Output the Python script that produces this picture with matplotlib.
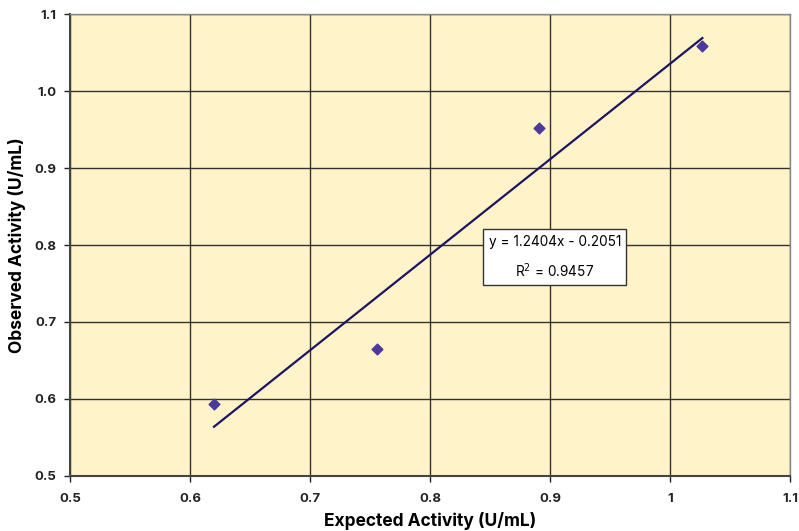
import numpy as np
import matplotlib.pyplot as plt

plt.rcParams['font.family'] = ['Inter', 'DejaVu Sans']

# Measured points
expected = [0.620, 0.756, 0.891, 1.027]
observed = [0.593, 0.665, 0.952, 1.058]

# Linear trendline reported on the chart
slope = 1.2404
intercept = -0.2051
eq_label = 'y = 1.2404x - 0.2051\nR$^2$ = 0.9457'

x_ticks = [0.5, 0.6, 0.7, 0.8, 0.9, 1.0, 1.1]
x_tick_labels = ['0.5', '0.6', '0.7', '0.8', '0.9', '1', '1.1']
y_ticks = [0.5, 0.6, 0.7, 0.8, 0.9, 1.0, 1.1]
y_tick_labels = ['0.5', '0.6', '0.7', '0.8', '0.9', '1.0', '1.1']

fig = plt.figure(figsize=(7.99, 5.31), dpi=100)
ax = fig.add_axes([0.0876, 0.1036, 0.9011, 0.870])
ax.set_facecolor('#FFF3C9')

# Trendline over the range of the data
xs = np.array([min(expected), max(expected)])
ax.plot(xs, slope * xs + intercept, color='#1E1562', linewidth=1.6, zorder=3)

# Data points
ax.scatter(expected, observed, marker='D', s=30, color='#4B3A9B', zorder=4)

ax.set_xlim(0.5, 1.1)
ax.set_ylim(0.5, 1.1)
ax.set_xticks(x_ticks)
ax.set_xticklabels(x_tick_labels)
ax.set_yticks(y_ticks)
ax.set_yticklabels(y_tick_labels)
ax.tick_params(labelsize=9.5, length=4, width=1, colors='#222222')
ax.tick_params(axis='x', pad=8)
ax.tick_params(axis='y', pad=6)
for lbl in ax.get_xticklabels() + ax.get_yticklabels():
    lbl.set_fontweight('bold')

ax.grid(True, color='#333333', linewidth=1)
ax.set_axisbelow(True)
for side in ['left', 'bottom']:
    ax.spines[side].set_color('#444444')
    ax.spines[side].set_linewidth(1.5)
for side in ['top', 'right']:
    ax.spines[side].set_color('#888888')
    ax.spines[side].set_linewidth(1)

ax.set_xlabel('Expected Activity (U/mL)', fontsize=12.5, fontweight='bold', labelpad=5)
ax.set_ylabel('Observed Activity (U/mL)', fontsize=12.5, fontweight='bold', labelpad=6)

# Trendline equation box
ax.text(0.904, 0.784, eq_label, ha='center', va='center', fontsize=9.8,
        linespacing=1.8, zorder=5,
        bbox=dict(boxstyle='square,pad=0.4', facecolor='white', edgecolor='#333333', linewidth=1))

plt.savefig('out.png', dpi=100)
